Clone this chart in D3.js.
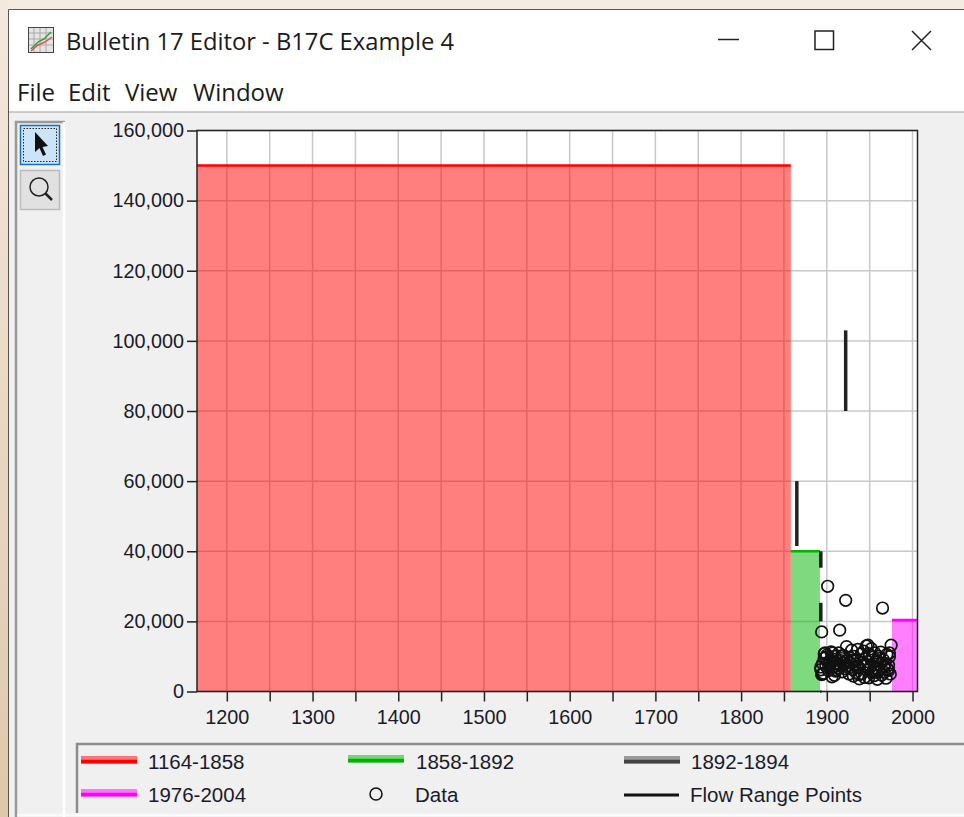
<!DOCTYPE html>
<html>
  <head>
    <meta charset="utf-8" />
    <style>
      html, body { margin: 0; padding: 0; background: #f0f0f0; }
      svg { display: block; }
      text { font-family: "Liberation Sans", Arial, sans-serif; fill: #1a1a2a; }
      .chrome text { font-family: "Open Sans", "Noto Sans", sans-serif; fill: #1a1a1a; }
    </style>
  </head>
  <body>
    <svg width="964" height="817"></svg>
    <script src="https://d3js.org/d3.v7.min.js"></script>
    <script>
      // periods: start year, end year, perception threshold
      var periodNames = ["1164-1858", "1858-1892", "1892-1894", "1976-2004"];
      var periodStart = [1164, 1858, 1892, 1976];
      var periodEnd = [1858, 1892, 1894, 2006];
      var periodFlow = [150000, 40000, 0, 20400];
      var periodColor = ["#ff0000", "#00b400", "#444444", "#ff00ff"];

      // flow range points, drawn as vertical bars
      var rangeYear = [1865, 1922, 1893, 1893];
      var rangeLow = [41500, 80000, 35300, 20000];
      var rangeHigh = [60000, 103000, 40000, 25300];

      var dataYear = [
        1893, 1894, 1895, 1896, 1897, 1898, 1899, 1900, 1901, 1902, 1903, 1904,
        1905, 1906, 1907, 1908, 1909, 1910, 1911, 1912, 1913, 1914, 1915, 1916,
        1917, 1918, 1919, 1920, 1921, 1922, 1923, 1924, 1925, 1926, 1927, 1928,
        1929, 1930, 1931, 1932, 1933, 1934, 1935, 1936, 1937, 1938, 1939, 1940,
        1941, 1942, 1943, 1944, 1945, 1946, 1947, 1948, 1949, 1950, 1951, 1952,
        1953, 1954, 1955, 1956, 1957, 1958, 1959, 1960, 1961, 1962, 1963, 1964,
        1965, 1966, 1967, 1968, 1969, 1970, 1971, 1972, 1973, 1974, 1975,
        1895, 1899, 1902, 1907, 1911, 1918, 1926, 1931, 1938, 1944, 1949, 1956, 1961, 1967, 1972,
        1893, 1894, 1897, 1909, 1948, 1973, 1915, 1935, 1958
      ];
      var dataFlow = [
        6200, 17000, 8000, 5200, 9500, 11000, 7200, 10400, 30000, 6000, 8400, 9000,
        11300, 4200, 8600, 7000, 10000, 5800, 9200, 8000, 6700, 11000, 17500, 7600,
        9400, 5600, 8200, 10200, 6500, 26000, 12800, 8800, 7400, 5000, 9600, 8100,
        11800, 6300, 4400, 10000, 7800, 5400, 9000, 12000, 6900, 3600, 8300, 10700,
        5100, 7300, 11500, 4000, 9300, 13000, 6100, 8500, 3900, 10400, 7000, 12200,
        5300, 9800, 4500, 11000, 6600, 8700, 3500, 10000, 5900, 7700, 11200, 4700,
        23800, 9100, 5500, 8000, 3800, 10600, 6400, 7500, 11000, 5000, 13200,
        5000, 9800, 7600, 11000, 6200, 10200, 6700, 9000, 4800, 7200, 10800, 5700, 9400, 7100, 6000,
        7000, 4800, 10800, 4600, 13200, 9900, 8900, 7000, 5600
      ];

      var xTicks = [1200, 1250, 1300, 1350, 1400, 1450, 1500, 1550, 1600, 1650, 1700, 1750, 1800, 1850, 1900, 1950, 2000];
      var yTicks = [0, 20000, 40000, 60000, 80000, 100000, 120000, 140000, 160000];

      var svg = d3.select("svg");

      var plotLeft = 197, plotRight = 917.5, plotTop = 130.5, plotBottom = 691.5;

      var x = d3.scaleLinear().domain([1165.2, 2005.8]).range([plotLeft, plotRight]);
      var y = d3.scaleLinear().domain([0, 160000]).range([plotBottom, plotTop]);

      var defs = svg.append("defs");
      var desk = defs.append("linearGradient").attr("id", "desk").attr("x1", 0).attr("x2", 0).attr("y1", 0).attr("y2", 1);
      desk.append("stop").attr("offset", 0).attr("stop-color", "#f3e9de");
      desk.append("stop").attr("offset", 1).attr("stop-color", "#dfc8a8");

      // window chrome
      var chrome = svg.append("g").attr("class", "chrome");
      chrome.append("rect").attr("width", 964).attr("height", 817).attr("fill", "#f0f0f0");
      chrome.append("rect").attr("width", 964).attr("height", 9).attr("fill", "#f4ebe1");
      chrome.append("rect").attr("width", 8).attr("height", 817).attr("fill", "url(#desk)");
      chrome.append("rect").attr("x", 8).attr("y", 9).attr("width", 956).attr("height", 103).attr("fill", "#fff");
      chrome.append("path").attr("d", "M8.5,817V9.5H964").attr("fill", "none").attr("stroke", "#555").attr("stroke-width", 1);
      chrome.append("line").attr("x1", 9).attr("x2", 964).attr("y1", 112).attr("y2", 112).attr("stroke", "#bdbdbd").attr("stroke-width", 1.5);

      // app icon
      var icon = chrome.append("g").attr("transform", "translate(28,27)");
      icon.append("rect").attr("x", 0.5).attr("y", 0.5).attr("width", 25).attr("height", 25).attr("fill", "#e4e4e4").attr("stroke", "#444");
      [6, 12, 18].forEach(function (d) {
        icon.append("line").attr("x1", d).attr("x2", d).attr("y1", 1).attr("y2", 25).attr("stroke", "#aaa");
        icon.append("line").attr("y1", d).attr("y2", d).attr("x1", 1).attr("x2", 25).attr("stroke", "#aaa");
      });
      icon.append("path").attr("d", "M3,22L10,15L16,12L23,5").attr("fill", "none").attr("stroke", "#2a9d3a").attr("stroke-width", 1.5);
      icon.append("path").attr("d", "M3,24L10,18L17,15L24,10").attr("fill", "none").attr("stroke", "#e65050").attr("stroke-width", 1.5);

      chrome.append("text").attr("x", 66).attr("y", 50).attr("font-size", 23.75).text("Bulletin 17 Editor - B17C Example 4");

      // min, max, close
      chrome.append("line").attr("x1", 718).attr("x2", 739).attr("y1", 39.5).attr("y2", 39.5).attr("stroke", "#222").attr("stroke-width", 1.5);
      chrome.append("rect").attr("x", 815).attr("y", 31).attr("width", 18.5).attr("height", 18.5).attr("fill", "none").attr("stroke", "#222").attr("stroke-width", 1.5);
      chrome.append("path").attr("d", "M912,31L931,50M931,31L912,50").attr("fill", "none").attr("stroke", "#222").attr("stroke-width", 1.5);

      var menuNames = ["File", "Edit", "View", "Window"];
      var menuX = [17, 68, 125, 193];
      chrome.selectAll(".menu").data(menuNames).enter().append("text")
        .attr("class", "menu")
        .attr("x", function (d, i) { return menuX[i]; })
        .attr("y", 101)
        .attr("font-size", 24)
        .text(function (d) { return d; });

      // toolbar
      chrome.append("path").attr("d", "M16,817V122H65").attr("fill", "none").attr("stroke", "#999").attr("stroke-width", 2.5);
      chrome.append("line").attr("x1", 64).attr("x2", 64).attr("y1", 122).attr("y2", 817).attr("stroke", "#fff").attr("stroke-width", 2.5);
      chrome.append("rect").attr("x", 20.5).attr("y", 125.5).attr("width", 39).attr("height", 39).attr("fill", "#cce4f7").attr("stroke", "#1f6fb0").attr("stroke-width", 1.5);
      chrome.append("rect").attr("x", 23.5).attr("y", 128.5).attr("width", 33).attr("height", 33).attr("fill", "none").attr("stroke", "#222").attr("stroke-dasharray", "1.5,1.5");
      chrome.append("path").attr("d", "M35,132V152L39.5,148L43,156L46,154.5L42.5,147L48,146Z").attr("fill", "#111");
      chrome.append("rect").attr("x", 20.5).attr("y", 170.5).attr("width", 39).attr("height", 39).attr("fill", "#e1e1e1").attr("stroke", "#bbb").attr("stroke-width", 1.5);
      chrome.append("circle").attr("cx", 39).attr("cy", 187).attr("r", 9).attr("fill", "none").attr("stroke", "#222").attr("stroke-width", 1.5);
      chrome.append("line").attr("x1", 45.5).attr("y1", 193.5).attr("x2", 52).attr("y2", 200).attr("stroke", "#222").attr("stroke-width", 2.5);

      // plot background and grid
      svg.append("rect").attr("x", plotLeft).attr("y", plotTop).attr("width", plotRight - plotLeft).attr("height", plotBottom - plotTop).attr("fill", "#fff");

      var grid = svg.append("g").attr("stroke", "#c8c8c8").attr("stroke-width", 1.5);
      grid.selectAll(".gx").data(xTicks).enter().append("line")
        .attr("class", "gx")
        .attr("x1", function (d) { return x(d); }).attr("x2", function (d) { return x(d); })
        .attr("y1", plotTop).attr("y2", plotBottom);
      grid.selectAll(".gy").data(yTicks).enter().append("line")
        .attr("class", "gy")
        .attr("x1", plotLeft).attr("x2", plotRight)
        .attr("y1", function (d) { return y(d); }).attr("y2", function (d) { return y(d); });

      // period areas, translucent so the grid shows through
      var periods = periodNames.map(function (name, i) {
        return {
          name: name,
          x0: Math.max(periodStart[i], x.domain()[0]),
          x1: Math.min(periodEnd[i], x.domain()[1]),
          flow: periodFlow[i],
          color: periodColor[i]
        };
      });

      var area = svg.append("g");
      area.selectAll("rect").data(periods).enter().append("rect")
        .attr("x", function (d) { return x(d.x0); })
        .attr("width", function (d) { return x(d.x1) - x(d.x0); })
        .attr("y", function (d) { return y(d.flow); })
        .attr("height", function (d) { return plotBottom - y(d.flow); })
        .attr("fill", function (d) { return d.color; })
        .attr("fill-opacity", 0.5);
      area.selectAll("line").data(periods).enter().append("line")
        .attr("x1", function (d) { return x(d.x0); })
        .attr("x2", function (d) { return x(d.x1); })
        .attr("y1", function (d) { return y(d.flow); })
        .attr("y2", function (d) { return y(d.flow); })
        .attr("stroke", function (d) { return d.color; })
        .attr("stroke-width", 2.5);

      // flow range bars
      svg.append("g").selectAll("line").data(rangeYear).enter().append("line")
        .attr("x1", function (d) { return x(d); })
        .attr("x2", function (d) { return x(d); })
        .attr("y1", function (d, i) { return y(rangeLow[i]); })
        .attr("y2", function (d, i) { return y(rangeHigh[i]); })
        .attr("stroke", "#222")
        .attr("stroke-width", 3.5);

      // data points
      svg.append("g").selectAll("circle").data(dataYear).enter().append("circle")
        .attr("cx", function (d) { return x(d); })
        .attr("cy", function (d, i) { return y(dataFlow[i]); })
        .attr("r", 5.8)
        .attr("fill", "none")
        .attr("stroke", "#111")
        .attr("stroke-width", 1.7);

      // frame
      svg.append("rect").attr("x", plotLeft).attr("y", plotTop).attr("width", plotRight - plotLeft).attr("height", plotBottom - plotTop)
        .attr("fill", "none").attr("stroke", "#222").attr("stroke-width", 1.5);

      // axes
      var xAxis = svg.append("g")
        .attr("transform", "translate(0," + plotBottom + ")")
        .call(d3.axisBottom(x).tickValues(xTicks).tickSize(10).tickPadding(8)
          .tickFormat(function (d) { return d % 100 === 0 ? d3.format("d")(d) : ""; }));
      var yAxis = svg.append("g")
        .attr("transform", "translate(" + plotLeft + ",0)")
        .call(d3.axisLeft(y).tickValues(yTicks).tickSize(10).tickPadding(3).tickFormat(d3.format(",")));
      [xAxis, yAxis].forEach(function (a) {
        a.select(".domain").remove();
        a.selectAll("line").attr("stroke", "#222").attr("stroke-width", 1.5);
        a.selectAll("text").attr("font-size", 19.8).attr("font-family", "Liberation Sans").attr("fill", "#1a1a2a");
      });

      // legend
      var legend = svg.append("g");
      legend.append("path").attr("d", "M77,813V744H964").attr("fill", "none").attr("stroke", "#8c8c8c").attr("stroke-width", 2.5);
      legend.append("line").attr("x1", 17).attr("x2", 964).attr("y1", 815).attr("y2", 815).attr("stroke", "#fafafa").attr("stroke-width", 2.5);

      var legendX = [81, 348, 624, 81];
      var legendTextX = [148, 416, 691, 148];
      var legendY = [760, 759, 760, 793];

      periodNames.forEach(function (name, i) {
        legend.append("rect").attr("x", legendX[i]).attr("y", legendY[i] - 4).attr("width", 56).attr("height", 8)
          .attr("fill", periodColor[i]).attr("fill-opacity", 0.5);
        legend.append("line").attr("x1", legendX[i]).attr("x2", legendX[i] + 56)
          .attr("y1", legendY[i] + 1.5).attr("y2", legendY[i] + 1.5)
          .attr("stroke", periodColor[i]).attr("stroke-width", 3.5);
        legend.append("text").attr("x", legendTextX[i]).attr("y", i === 3 ? 802 : 769).attr("font-size", 20.5).text(name);
      });

      legend.append("circle").attr("cx", 376).attr("cy", 794).attr("r", 6).attr("fill", "none").attr("stroke", "#111").attr("stroke-width", 1.5);
      legend.append("text").attr("x", 415).attr("y", 802).attr("font-size", 20.5).text("Data");
      legend.append("line").attr("x1", 624).attr("x2", 679).attr("y1", 795).attr("y2", 795).attr("stroke", "#111").attr("stroke-width", 3);
      legend.append("text").attr("x", 690).attr("y", 802).attr("font-size", 20.5).text("Flow Range Points");
    </script>
  </body>
</html>
